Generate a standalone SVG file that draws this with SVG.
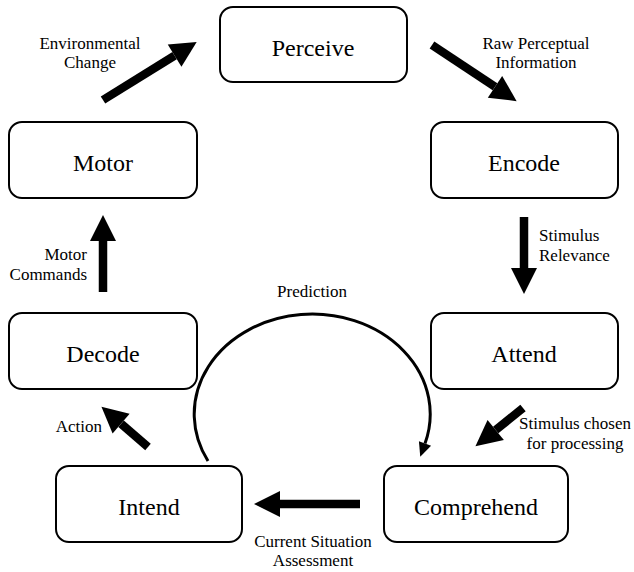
<svg xmlns="http://www.w3.org/2000/svg" width="634" height="572" viewBox="0 0 634 572">
  <style>
    .box { fill: #ffffff; stroke: #000000; stroke-width: 2; }
    .node-label { font-size: 24px; fill: #000000; text-anchor: middle; }
    .edge-label { font-size: 17px; fill: #000000; }
    .block { stroke: #000000; stroke-width: 8.5; fill: none; marker-end: url(#blockHead); }
    .loop { stroke: #000000; stroke-width: 3; fill: none; marker-end: url(#smallHead); }
  </style>
  <defs>
    <!-- wide head for the thick cycle arrows; the line stops at the head's base -->
    <marker id="blockHead" markerUnits="userSpaceOnUse" markerWidth="26" markerHeight="26" viewBox="0 -12 24 24" refX="0" refY="0" orient="auto" overflow="visible">
      <path d="M0,-12 L24,0 L0,12 z" fill="#000000"/>
    </marker>
    <marker id="smallHead" markerUnits="userSpaceOnUse" markerWidth="14" markerHeight="14" viewBox="0 -6 13 12" refX="0" refY="0" orient="auto" overflow="visible">
      <path d="M0,-6 L13,0 L0,6 z" fill="#000000"/>
    </marker>
  </defs>

  <g font-family="Liberation Serif, Times New Roman, serif">
  <g id="perceive">
    <rect class="box" x="220" y="7" width="187" height="75" rx="13"/>
    <text class="node-label" x="313" y="56">Perceive</text>
  </g>
  <g id="encode">
    <rect class="box" x="431" y="122" width="187" height="76" rx="13"/>
    <text class="node-label" x="524" y="171">Encode</text>
  </g>
  <g id="attend">
    <rect class="box" x="431" y="313" width="187" height="76" rx="13"/>
    <text class="node-label" x="524" y="362">Attend</text>
  </g>
  <g id="comprehend">
    <rect class="box" x="384" y="466" width="184" height="76" rx="13"/>
    <text class="node-label" x="476" y="515">Comprehend</text>
  </g>
  <g id="intend">
    <rect class="box" x="56" y="466" width="186" height="76" rx="13"/>
    <text class="node-label" x="149" y="515">Intend</text>
  </g>
  <g id="decode">
    <rect class="box" x="9" y="313" width="188" height="76" rx="13"/>
    <text class="node-label" x="103" y="362">Decode</text>
  </g>
  <g id="motor">
    <rect class="box" x="9" y="122" width="188" height="76" rx="13"/>
    <text class="node-label" x="103" y="171">Motor</text>
  </g>

  <g id="connectors">
    <!-- Motor -> Perceive -->
    <line class="block" x1="103" y1="100" x2="174.6" y2="55.6"/>
    <!-- Perceive -> Encode -->
    <line class="block" x1="432" y1="45" x2="495" y2="86.8"/>
    <!-- Encode -> Attend -->
    <line class="block" x1="524" y1="217" x2="524" y2="268"/>
    <!-- Attend -> Comprehend -->
    <line class="block" x1="523" y1="408" x2="495.7" y2="430"/>
    <!-- Comprehend -> Intend -->
    <line class="block" x1="360" y1="504" x2="280" y2="504"/>
    <!-- Intend -> Decode -->
    <line class="block" x1="148" y1="447" x2="121.1" y2="423.7"/>
    <!-- Decode -> Motor -->
    <line class="block" x1="103" y1="292" x2="103" y2="241"/>
    <!-- prediction loop from Intend back over to Comprehend -->
    <path class="loop" d="M208,461 A118,100 0 1 1 425,443.5"/>
  </g>

  <g id="labels">
    <text class="edge-label" x="90" y="49" text-anchor="middle">Environmental</text>
    <text class="edge-label" x="90" y="68" text-anchor="middle">Change</text>
    <text class="edge-label" x="536" y="49" text-anchor="middle">Raw Perceptual</text>
    <text class="edge-label" x="536" y="68" text-anchor="middle">Information</text>
    <text class="edge-label" x="539" y="241">Stimulus</text>
    <text class="edge-label" x="539" y="261">Relevance</text>
    <text class="edge-label" x="575" y="429" text-anchor="middle">Stimulus chosen</text>
    <text class="edge-label" x="575" y="449" text-anchor="middle">for processing</text>
    <text class="edge-label" x="313" y="547" text-anchor="middle">Current Situation</text>
    <text class="edge-label" x="313" y="566" text-anchor="middle">Assessment</text>
    <text class="edge-label" x="102" y="432" text-anchor="end">Action</text>
    <text class="edge-label" x="87" y="260" text-anchor="end">Motor</text>
    <text class="edge-label" x="87" y="280" text-anchor="end">Commands</text>
    <text class="edge-label" x="312" y="297" text-anchor="middle">Prediction</text>
  </g>
  </g>
</svg>
